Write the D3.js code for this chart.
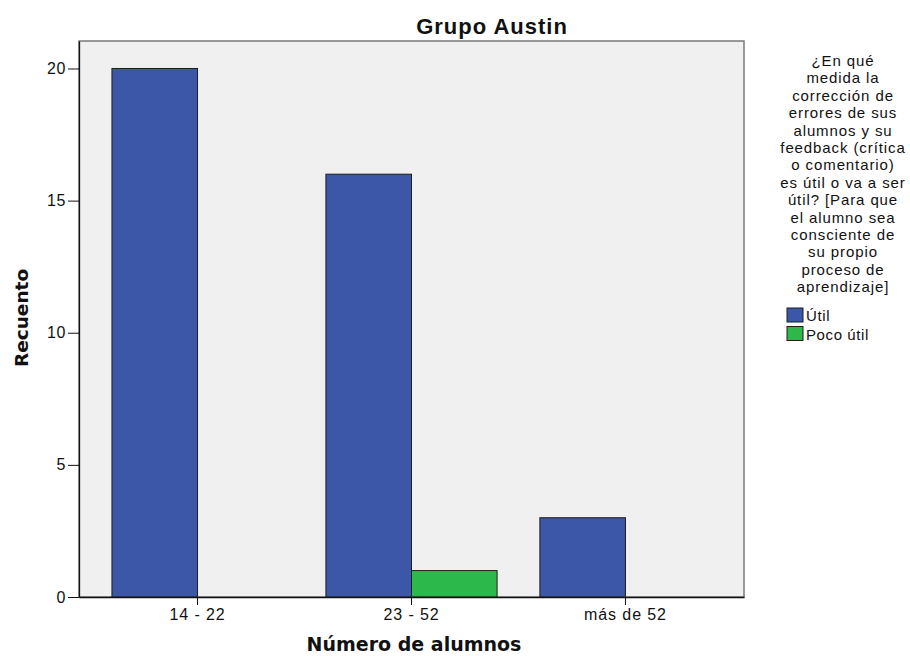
<!DOCTYPE html>
<html>
<head>
<meta charset="utf-8">
<script src="https://cdn.jsdelivr.net/npm/d3@7"></script>
<style>
  html, body { margin: 0; padding: 0; background: #ffffff; }
  svg { display: block; }
  text { font-family: "Liberation Sans", Arial, sans-serif; fill: #111; }
</style>
</head>
<body>
<div id="chart"></div>
<script>
// Counts per class size, split by answer
const categories = ["14 - 22", "23 - 52", "más de 52"];
const seriesNames = ["Útil", "Poco útil"];
const utilValues = [20, 16, 3];
const pocoUtilValues = [0, 1, 0];
const yTicks = [0, 5, 10, 15, 20];
const seriesColors = ["#3c56a8", "#2db84b"];

const legendTitleLines = [
  "¿En qué", "medida la", "corrección de", "errores de sus", "alumnos y su",
  "feedback (crítica", "o comentario)", "es útil o va a ser", "útil? [Para que",
  "el alumno sea", "consciente de", "su propio", "proceso de", "aprendizaje]"
];

const W = 910, H = 656;
const plot = { left: 79, top: 41, right: 744, bottom: 597 };

const svg = d3.select("#chart").append("svg")
  .attr("width", W).attr("height", H);

const x0 = d3.scaleBand()
  .domain(categories)
  .range([plot.left, plot.right])
  .paddingInner(0)
  .paddingOuter(0.054);

const barW = x0.step() * 0.4;

const y = d3.scaleLinear()
  .domain([0, 21.04])
  .range([plot.bottom, plot.top]);

// plot background and frame
svg.append("rect")
  .attr("x", plot.left).attr("y", plot.top)
  .attr("width", plot.right - plot.left).attr("height", plot.bottom - plot.top)
  .attr("fill", "#f0f0f0")
  .attr("stroke", "#7a7a7a").attr("stroke-width", 1.5);

// bars
const rows = categories.map((c, i) => ({
  cat: c,
  vals: [utilValues[i], pocoUtilValues[i]]
}));

const x1 = d3.scaleBand().domain(seriesNames).range([-barW, barW]).padding(0);

const g = svg.append("g");
rows.forEach(r => {
  const cx = x0(r.cat) + x0.bandwidth() / 2;
  r.vals.forEach((v, si) => {
    if (v <= 0) return;
    g.append("rect")
      .attr("x", cx + x1(seriesNames[si]))
      .attr("y", y(v))
      .attr("width", x1.bandwidth())
      .attr("height", y(0) - y(v))
      .attr("fill", seriesColors[si])
      .attr("stroke", "#1e1e1e")
      .attr("stroke-width", 1);
  });
});

// y axis
const yAxis = d3.axisLeft(y).tickValues(yTicks).tickSize(11).tickSizeOuter(0)
  .tickPadding(2).tickFormat(d3.format("d"));
const yg = svg.append("g").attr("transform", `translate(${plot.left},0)`).call(yAxis);
yg.select(".domain").attr("stroke", "#111").attr("stroke-width", 1.3);
yg.selectAll(".tick line").attr("stroke", "#111");
yg.selectAll(".tick text")
  .style("font-family", "'Liberation Sans', Arial, sans-serif")
  .style("font-size", "16px").style("letter-spacing", "0.6px").attr("fill", "#111");

// x axis
const xAxis = d3.axisBottom(x0).tickSize(8).tickSizeOuter(0).tickPadding(4);
const xg = svg.append("g").attr("transform", `translate(0,${plot.bottom})`).call(xAxis);
xg.select(".domain").attr("stroke", "#111").attr("stroke-width", 1.3);
xg.selectAll(".tick line").attr("stroke", "#111");
xg.selectAll(".tick text")
  .style("font-family", "'Liberation Sans', Arial, sans-serif")
  .style("font-size", "16px").style("letter-spacing", "0.9px").attr("fill", "#111");

// title
svg.append("text")
  .attr("x", 492).attr("y", 34)
  .attr("text-anchor", "middle")
  .style("font-size", "22px").style("font-weight", "bold")
  .style("letter-spacing", "1px")
  .text("Grupo Austin");

// axis titles
svg.append("text")
  .attr("transform", "translate(28,318) rotate(-90)")
  .attr("text-anchor", "middle")
  .style("font-family", "'DejaVu Sans', sans-serif")
  .style("font-size", "18.5px").style("font-weight", "bold")
  .text("Recuento");

svg.append("text")
  .attr("x", 414).attr("y", 651)
  .attr("text-anchor", "middle")
  .style("font-family", "'DejaVu Sans', sans-serif")
  .style("font-size", "19px").style("font-weight", "bold")
  .text("Número de alumnos");

// legend
const lg = svg.append("g");
lg.selectAll("text.lt")
  .data(legendTitleLines)
  .join("text")
  .attr("class", "lt")
  .attr("x", 843)
  .attr("y", (d, i) => 66 + i * 17.4)
  .attr("text-anchor", "middle")
  .style("font-size", "15px")
  .style("letter-spacing", "0.9px")
  .text(d => d);

seriesNames.forEach((s, i) => {
  lg.append("rect")
    .attr("x", 787).attr("y", 308 + i * 18.5)
    .attr("width", 16).attr("height", 14)
    .attr("fill", seriesColors[i])
    .attr("stroke", "#1e1e1e").attr("stroke-width", 1);
  lg.append("text")
    .attr("x", 806).attr("y", 321 + i * 18.5)
    .style("font-size", "15px")
    .style("letter-spacing", "0.6px")
    .text(s);
});
</script>
</body>
</html>
